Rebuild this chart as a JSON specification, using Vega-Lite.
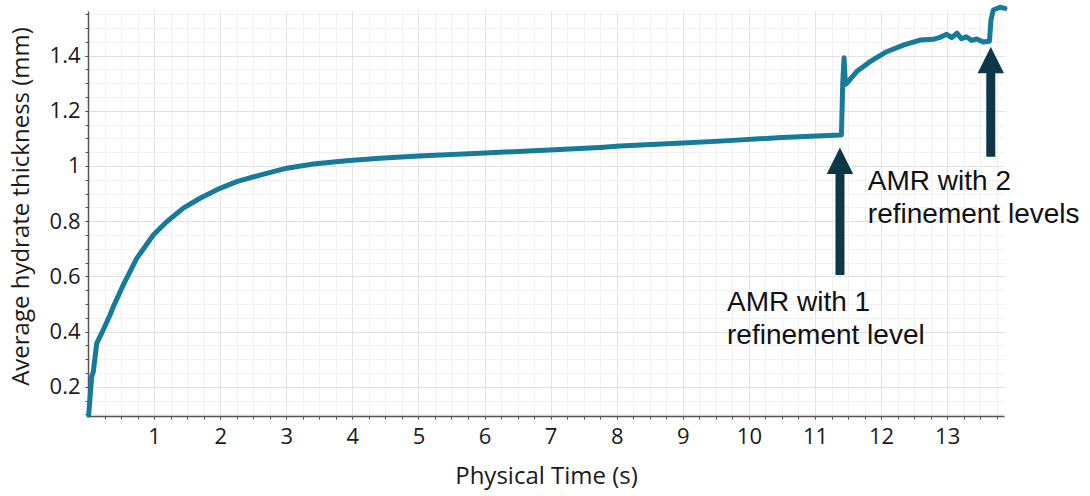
{
  "$schema": "https://vega.github.io/schema/vega-lite/v6.json",
  "autosize": {"type": "none"},
  "padding": {"left": 88, "top": 11, "right": 86, "bottom": 80},
  "width": 916,
  "height": 405,
  "background": "white",
  "config": {"view": {"stroke": null}},
  "datasets": {
    "curve": [
      {"t": 0.01, "h": 0.097},
      {"t": 0.056, "h": 0.236},
      {"t": 0.08, "h": 0.254},
      {"t": 0.132, "h": 0.357},
      {"t": 0.207, "h": 0.394},
      {"t": 0.333, "h": 0.46},
      {"t": 0.383, "h": 0.49},
      {"t": 0.534, "h": 0.569},
      {"t": 0.737, "h": 0.665},
      {"t": 0.988, "h": 0.75},
      {"t": 1.191, "h": 0.798},
      {"t": 1.442, "h": 0.847},
      {"t": 1.695, "h": 0.883},
      {"t": 1.997, "h": 0.919},
      {"t": 2.25, "h": 0.943},
      {"t": 2.603, "h": 0.967},
      {"t": 3.007, "h": 0.992},
      {"t": 3.409, "h": 1.007},
      {"t": 3.914, "h": 1.019},
      {"t": 4.418, "h": 1.028},
      {"t": 5.0, "h": 1.036},
      {"t": 5.93, "h": 1.046},
      {"t": 7.14, "h": 1.06},
      {"t": 7.747, "h": 1.067},
      {"t": 8.05, "h": 1.072},
      {"t": 9.0, "h": 1.083},
      {"t": 9.563, "h": 1.09},
      {"t": 10.5, "h": 1.103},
      {"t": 11.378, "h": 1.112},
      {"t": 11.4, "h": 1.112},
      {"t": 11.42, "h": 1.3},
      {"t": 11.44, "h": 1.392},
      {"t": 11.46, "h": 1.295},
      {"t": 11.48, "h": 1.2995},
      {"t": 11.631, "h": 1.342},
      {"t": 11.832, "h": 1.378},
      {"t": 12.085, "h": 1.414},
      {"t": 12.336, "h": 1.438},
      {"t": 12.589, "h": 1.456},
      {"t": 12.79, "h": 1.459},
      {"t": 12.89, "h": 1.466},
      {"t": 12.993, "h": 1.477},
      {"t": 13.069, "h": 1.465},
      {"t": 13.15, "h": 1.481},
      {"t": 13.215, "h": 1.461},
      {"t": 13.29, "h": 1.468},
      {"t": 13.37, "h": 1.455},
      {"t": 13.447, "h": 1.46},
      {"t": 13.547, "h": 1.449},
      {"t": 13.64, "h": 1.452},
      {"t": 13.663, "h": 1.529},
      {"t": 13.698, "h": 1.565},
      {"t": 13.8, "h": 1.575},
      {"t": 13.875, "h": 1.571}
    ],
    "shafts": [
      {"t": 11.378, "h": 0.6049, "h2": 0.98},
      {"t": 13.66, "h": 1.0336, "h2": 1.345}
    ],
    "heads": [
      {"t": 11.378, "h": 1.0187},
      {"t": 13.66, "h": 1.3839}
    ],
    "notes": [
      {"t": 9.669, "h": 0.4755, "text": "AMR with 1"},
      {"t": 9.669, "h": 0.3549, "text": "refinement level"},
      {"t": 11.8, "h": 0.9129, "text": "AMR with 2"},
      {"t": 11.8, "h": 0.7944, "text": "refinement levels"}
    ]
  },
  "resolve": {"axis": {"x": "independent", "y": "independent"}},
  "layer": [
    {
      "data": {"name": "shafts"},
      "mark": {"type": "rule", "strokeWidth": 9, "color": "#0d3649"},
      "encoding": {
        "x": {"field": "t", "type": "quantitative",
          "scale": {"domain": [0, 13.86], "nice": false, "zero": false},
          "axis": {"orient": "bottom", "title": null, "labels": false, "domain": false,
            "values": [0.25,0.5,0.75,1,1.25,1.5,1.75,2,2.25,2.5,2.75,3,3.25,3.5,3.75,4,4.25,4.5,4.75,5,5.25,5.5,5.75,6,6.25,6.5,6.75,7,7.25,7.5,7.75,8,8.25,8.5,8.75,9,9.25,9.5,9.75,10,10.25,10.5,10.75,11,11.25,11.5,11.75,12,12.25,12.5,12.75,13,13.25,13.5,13.75],
            "grid": true, "gridColor": "#f1f1f1", "gridWidth": 1,
            "ticks": true, "tickSize": 3, "tickColor": "#555", "tickWidth": 1}},
        "y": {"field": "h", "type": "quantitative",
          "scale": {"domain": [0.094, 1.5615], "nice": false, "zero": false},
          "axis": {"orient": "left", "title": null, "labels": false, "domain": false,
            "values": [0.1,0.15,0.2,0.25,0.3,0.35,0.4,0.45,0.5,0.55,0.6,0.65,0.7,0.75,0.8,0.85,0.9,0.95,1,1.05,1.1,1.15,1.2,1.25,1.3,1.35,1.4,1.45,1.5,1.55],
            "grid": true, "gridColor": "#f1f1f1", "gridWidth": 1,
            "ticks": true, "tickSize": 3, "tickColor": "#555", "tickWidth": 1}},
        "y2": {"field": "h2"}
      }
    },
    {
      "data": {"name": "heads"},
      "mark": {"type": "point", "shape": "M0,-1L1,1L-1,1Z", "size": 700, "filled": true, "opacity": 1, "color": "#0d3649", "strokeWidth": 0},
      "encoding": {
        "x": {"field": "t", "type": "quantitative",
          "scale": {"domain": [0, 13.86], "nice": false, "zero": false},
          "axis": {"orient": "bottom", "values": [1,2,3,4,5,6,7,8,9,10,11,12,13],
            "grid": true, "gridColor": "#e2e2e2", "gridWidth": 1,
            "ticks": true, "tickSize": 3, "tickColor": "#555",
            "domain": true, "domainColor": "#555", "domainWidth": 1.5,
            "labelFont": "Open Sans", "labelFontSize": 22, "labelColor": "#1a1a1a",
            "labelBaseline": "alphabetic", "labelPadding": 24, "labelOverlap": false, "labelFlush": false,
            "title": "Physical Time (s)", "titleFont": "Open Sans", "titleFontSize": 24,
            "titleFontWeight": "normal", "titleColor": "#1a1a1a", "titleBaseline": "alphabetic",
            "titleX": 458, "titleY": 67}},
        "y": {"field": "h", "type": "quantitative",
          "scale": {"domain": [0.094, 1.5615], "nice": false, "zero": false},
          "axis": {"orient": "left", "values": [0.2,0.4,0.6,0.8,1,1.2,1.4], "format": "~g",
            "grid": true, "gridColor": "#e2e2e2", "gridWidth": 1,
            "ticks": true, "tickSize": 3, "tickColor": "#555",
            "domain": true, "domainColor": "#555", "domainWidth": 1.5,
            "labelFont": "Open Sans", "labelFontSize": 22, "labelColor": "#1a1a1a",
            "labelPadding": 5, "labelOverlap": false, "labelFlush": false,
            "title": "Average hydrate thickness (mm)", "titleFont": "Open Sans", "titleFontSize": 24,
            "titleFontWeight": "normal", "titleColor": "#1a1a1a", "titleBaseline": "alphabetic",
            "titleAngle": 270, "titleX": -59.7, "titleY": 195}}
      }
    },
    {
      "data": {"name": "curve"},
      "mark": {"type": "line", "color": "#167a9b", "strokeWidth": 5, "strokeJoin": "round", "strokeCap": "round"},
      "encoding": {
        "x": {"field": "t", "type": "quantitative", "scale": {"domain": [0, 13.86], "nice": false, "zero": false}, "axis": null},
        "y": {"field": "h", "type": "quantitative", "scale": {"domain": [0.094, 1.5615], "nice": false, "zero": false}, "axis": null}
      }
    },
    {
      "data": {"name": "notes"},
      "mark": {"type": "text", "font": "Liberation Sans", "fontSize": 28, "align": "left", "baseline": "alphabetic", "color": "#111"},
      "encoding": {
        "x": {"field": "t", "type": "quantitative", "scale": {"domain": [0, 13.86], "nice": false, "zero": false}, "axis": null},
        "y": {"field": "h", "type": "quantitative", "scale": {"domain": [0.094, 1.5615], "nice": false, "zero": false}, "axis": null},
        "text": {"field": "text"}
      }
    }
  ]
}
